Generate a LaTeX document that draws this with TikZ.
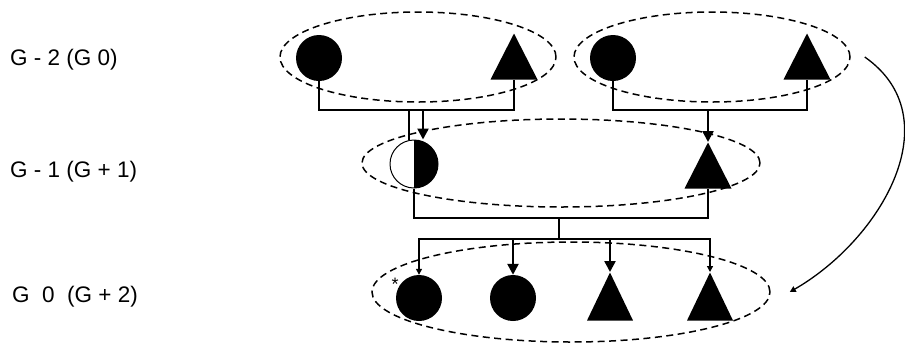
\documentclass[tikz,border=0pt]{standalone}
\usepackage{fontspec}
\setmainfont{Liberation Sans}
\usetikzlibrary{arrows.meta,positioning,shapes.geometric}

\begin{document}
\begin{tikzpicture}[
    x=1pt, y=-1pt,
    font=\fontsize{22.5}{27}\selectfont,
    gen/.style={anchor=base west, inner sep=0},
    group/.style={draw, ellipse, dash pattern=on 7pt off 4.5pt, line width=1.5pt, inner sep=0},
    female/.style={circle, fill, minimum size=46pt, inner sep=0},
    male/.style={isosceles triangle, shape border rotate=90, isosceles triangle stretches, fill, minimum width=47pt, minimum height=46pt, inner sep=0, anchor=apex},
    carrier/.style={circle, draw, line width=1pt, fill=white, minimum size=48pt, inner sep=0,
        path picture={\fill[black] (path picture bounding box.north) rectangle (path picture bounding box.south east);}},
    line/.style={line width=1.3pt},
    arrow/.style={-{Triangle[length=11pt,width=11pt]}, line width=2.4pt},
    thinarrow/.style={-{Triangle[length=6pt,width=6pt]}, line width=1.3pt}
]
\useasboundingbox (0,0) rectangle (905,360);

% generation labels
\node[gen] (lvl2) at (10,65) {G - 2 (G 0)};
\node[gen] (lvl1) at (10,177) {G - 1 (G + 1)};
\node[gen] (lvl0) at (12,302) {G\ \ 0\ \ (G + 2)};

% dashed groups
\node[group, minimum width=276pt, minimum height=90pt] (gen2a) at (418,57) {};
\node[group, minimum width=276pt, minimum height=90pt] (gen2b) at (712,57) {};
\node[group, minimum width=398pt, minimum height=88pt] (gen1) at (561,163) {};
\node[group, minimum width=398pt, minimum height=100pt] (gen0) at (571,292) {};

% G-2
\node[female] (motherA) at (319,58) {};
\node[male] (fatherA) at (514,33) {};
\node[female] (motherB) at (613,58) {};
\node[male] (fatherB) at (807,33) {};

% G-1
\node[carrier] (daughter) at (414,164) {};
\node[male] (son) at (708,142) {};

% G0
\node[female] (kid1) at (419,298) {};
\node[female] (kid2) at (513,298) {};
\node[male, minimum height=48pt, minimum width=46pt] (kid3) at (610,272) {};
\node[male, minimum height=48pt, minimum width=46pt] (kid4) at (710,272) {};
\node[font=\fontsize{18}{18}\selectfont, inner sep=0] (mark) at ([xshift=-24pt,yshift=14pt]kid1.center) {*};

% matings and descent
\coordinate (mateA) at (423,110);
\coordinate (linkA) at (409,110);
\coordinate (mateB) at (708,110);
\coordinate (mate1) at (559,218);
\coordinate (sibs) at (559,239);

\draw[line] (motherA) |- (mateA) -| (fatherA);
\draw[line] (linkA) -- (linkA |- daughter.north);
\draw[arrow] (mateA) -- (mateA |- daughter.north);
\draw[line] (motherB) |- (mateB) -| (fatherB);
\draw[arrow] (mateB) -- (son);

\draw[line] (daughter) |- (mate1) -| (son);
\draw[line] (mate1) -- (sibs);
\draw[thinarrow] (sibs) -| (kid1);
\draw[arrow] (sibs) -| (kid2);
\draw[arrow] (sibs) -| (kid3);
\draw[thinarrow] (sibs) -| (kid4);

\draw[thinarrow] ([xshift=14pt]gen2b.east) to[out=-35, in=30, looseness=1.1] ([xshift=19pt]gen0.east);
\end{tikzpicture}
\end{document}
